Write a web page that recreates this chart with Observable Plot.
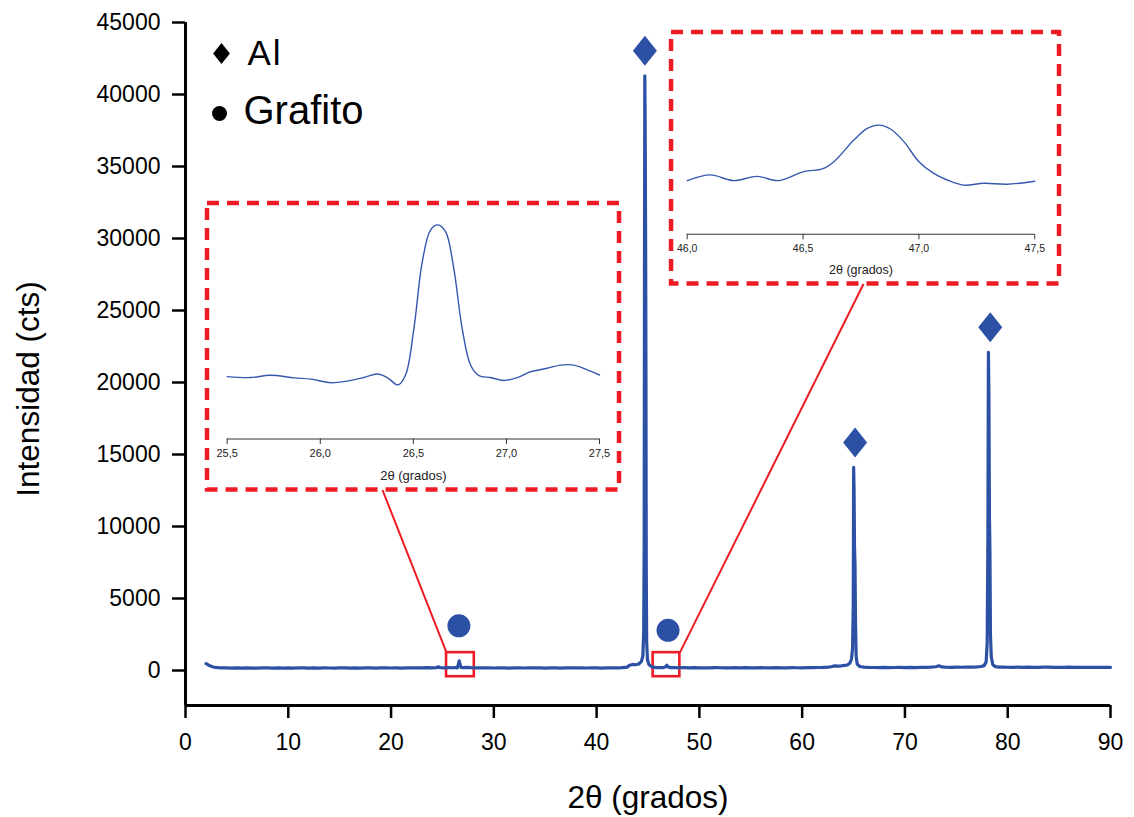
<!DOCTYPE html>
<html>
<head>
<meta charset="utf-8">
<script src="https://cdn.jsdelivr.net/npm/d3@7"></script>
<script src="https://cdn.jsdelivr.net/npm/@observablehq/plot@0.6"></script>
<style>
  html, body { margin: 0; padding: 0; background: #fff; }
  #chart { position: relative; width: 1134px; height: 817px; }
  #chart svg { font-family: "Liberation Sans", Arial, sans-serif; }
  .legend-al text { letter-spacing: 2px; }
</style>
</head>
<body>
<div id="chart"></div>
<script>
// XRD pattern of the Al / graphite sample: 2θ (degrees) and intensity (counts)
const twoTheta = [
  2.0, 2.15, 2.3, 2.5, 2.7, 2.9, 3.2, 3.6, 4.0, 4.5, 5.0, 5.5, 6.0, 6.5, 7.0, 7.5, 8.0, 8.5, 9.0, 9.5,
  10.0, 10.5, 11.0, 11.5, 12.0, 12.5, 13.0, 13.5, 14.0, 14.5, 15.0, 15.5, 16.0, 16.5, 17.0, 17.5, 18.0, 18.5, 19.0, 19.5,
  20.0, 20.5, 21.0, 21.5, 22.0, 22.5, 23.0, 23.5, 24.0, 24.4, 24.6, 24.8, 25.2, 25.6, 26.0, 26.3, 26.45, 26.55, 26.63, 26.71,
  26.8, 27.0, 27.4, 27.8, 28.3, 29.0, 29.5, 30.0, 30.5, 31.0, 31.5, 32.0, 32.5, 33.0, 33.5, 34.0, 34.5, 35.0, 35.5, 36.0,
  36.5, 37.0, 37.5, 38.0, 38.5, 39.0, 39.5, 40.0, 40.5, 41.0, 41.5, 42.0, 42.5, 43.0, 43.2, 43.5, 43.8, 44.1, 44.35, 44.5,
  44.58, 44.63, 44.66, 44.69, 44.72, 44.74, 44.77, 44.8, 44.83, 44.87, 44.95, 45.1, 45.4, 45.8, 46.2, 46.5, 46.7, 46.83, 46.95, 47.2,
  47.6, 48.0, 48.5, 49.0, 49.5, 50.0, 50.5, 51.0, 51.5, 52.0, 52.5, 53.0, 53.5, 54.0, 54.5, 55.0, 55.5, 56.0, 56.5, 57.0,
  57.5, 58.0, 58.5, 59.0, 59.5, 60.0, 60.5, 61.0, 61.5, 62.0, 62.5, 62.8, 63.0, 63.2, 63.5, 63.8, 64.4, 64.65, 64.8, 64.9,
  64.97, 65.01, 65.05, 65.09, 65.14, 65.19, 65.25, 65.35, 65.6, 66.0, 66.5, 67.0, 67.5, 68.0, 68.5, 69.0, 69.5, 70.0, 70.5, 71.0,
  71.5, 72.0, 72.5, 73.0, 73.3, 73.6, 74.0, 74.5, 75.0, 75.5, 76.0, 76.5, 77.0, 77.4, 77.7, 77.9, 78.0, 78.07, 78.12, 78.17,
  78.22, 78.27, 78.32, 78.4, 78.55, 78.8, 79.2, 79.6, 80.0, 80.5, 81.0, 81.5, 82.0, 82.5, 83.0, 83.5, 84.0, 84.5, 85.0, 85.5,
  86.0, 86.5, 87.0, 87.5, 88.0, 88.5, 89.0, 89.5, 90.0
];
const counts = [
  480, 420, 350, 290, 245, 215, 195, 185, 178, 172, 180, 168, 185, 172, 165, 180, 176, 168, 184, 170,
  176, 165, 182, 186, 168, 176, 170, 186, 174, 165, 178, 186, 170, 176, 166, 184, 176, 170, 186, 180,
  174, 186, 168, 180, 190, 176, 184, 195, 186, 200, 260, 195, 185, 200, 190, 210, 185, 430, 669, 430,
  220, 200, 212, 195, 186, 178, 186, 174, 180, 186, 172, 178, 186, 174, 180, 176, 186, 172, 180, 184,
  172, 186, 176, 190, 180, 174, 186, 176, 170, 184, 176, 186, 196, 240, 360, 420, 400, 450, 620, 1000,
  2600, 9000, 29000, 41300, 38500, 35000, 29500, 21000, 7000, 2000, 750, 400, 250, 205, 195, 205, 250, 364, 250, 200,
  205, 190, 196, 186, 194, 182, 192, 186, 196, 190, 182, 188, 195, 184, 196, 188, 182, 194, 186, 182,
  196, 188, 184, 196, 190, 186, 196, 202, 208, 215, 240, 260, 300, 320, 310, 320, 380, 520, 800, 1500,
  4500, 14100, 12500, 8700, 7400, 3500, 1000, 450, 280, 230, 215, 210, 205, 212, 204, 210, 214, 206, 212, 202,
  214, 222, 230, 260, 330, 250, 225, 220, 232, 226, 234, 240, 255, 280, 340, 600, 1900, 9000, 22100, 19000,
  10800, 8200, 2500, 950, 400, 270, 240, 230, 226, 220, 228, 218, 232, 222, 216, 228, 232, 222, 226, 218,
  232, 224, 218, 226, 222, 214, 224, 216, 220
];

// Phase identification: Al reflections and graphite reflections
const alPeakTheta = [44.7, 65.15, 78.3];
const alPeakCounts = [41300, 14100, 22100];
const graphitePeakTheta = [26.6, 46.95];
const graphitePeakCounts = [669, 364];

// Legend entries
const legendLabels = ["Al", "Grafito"];

// Zoomed windows highlighted on the full pattern (2θ range and count range)
const zoomTheta1 = [25.4, 45.5];
const zoomTheta2 = [28.1, 48.1];
const zoomCountsLow = [-430, -430];
const zoomCountsHigh = [1240, 1240];

// Detail of the graphite (002) reflection
const inset1Theta = [25.5, 25.625, 25.73, 25.86, 25.95, 26.055, 26.145, 26.234, 26.306, 26.36, 26.417, 26.458, 26.503,
  26.548, 26.592, 26.631, 26.673, 26.717, 26.762, 26.807, 26.852, 26.914, 26.986, 27.058, 27.129, 27.219, 27.29, 27.362, 27.434, 27.5];
const inset1Counts = [195, 192, 199, 191, 187, 176, 181, 192, 203, 192, 169, 200, 346,
  554, 653, 669, 648, 533, 346, 231, 198, 192, 183, 192, 210, 221, 231, 231, 216, 200];
const inset1Ticks = [25.5, 26.0, 26.5, 27.0, 27.5];

// Detail of the weak graphite reflection near 46.8°
const inset2Theta = [46.0, 46.1, 46.2, 46.3, 46.395, 46.503, 46.583, 46.633, 46.719, 46.777, 46.827, 46.877, 46.935,
  47.0, 47.064, 47.122, 47.194, 47.28, 47.381, 47.5];
const inset2Counts = [179, 198, 179, 193, 179, 209, 218, 242, 314, 353, 364, 351, 309,
  242, 203, 181, 164, 170, 167, 177];
const inset2Ticks = [46.0, 46.5, 47.0, 47.5];

// ---- styling & layout ----
const BLUE = "#2b50a4";
const RED = "#ed1c24";
const FONT = "Liberation Sans, Arial, sans-serif";

const pattern = twoTheta.map((t, i) => ({t, c: counts[i]}));
const alPeaks = alPeakTheta.map((t, i) => ({t, c: alPeakCounts[i]}));
const graphitePeaks = graphitePeakTheta.map((t, i) => ({t, c: graphitePeakCounts[i]}));
const zoomWindows = zoomTheta1.map((t1, i) => ({t1, t2: zoomTheta2[i], c1: zoomCountsLow[i], c2: zoomCountsHigh[i]}));

// Where each detail panel sits on the main chart, in main-axis units
const insetLayout = [
  {x1: 2.14, x2: 42.23, y1: 12535, y2: 32430, linkX: 19.17, corner: "left",
   margin: {top: 11.5, right: 20, bottom: 51, left: 19.7}, yDomain: [0, 700],
   tickFont: 11, titleFont: 13, titleDy: 37, labelPad: 5},
  {x1: 47.29, x2: 85.04, y1: 26840, y2: 44306, linkX: 65.97, corner: "right",
   margin: {top: 21.8, right: 24.7, bottom: 49.7, left: 15.7}, yDomain: [0, 600],
   tickFont: 10.5, titleFont: 12.5, titleDy: 35.5, labelPad: 4.5}
];
const insetData = [
  {theta: inset1Theta, counts: inset1Counts, ticks: inset1Ticks},
  {theta: inset2Theta, counts: inset2Counts, ticks: inset2Ticks}
];

// Connector lines from each highlighted window to its detail panel
const connectors = insetLayout.map((b, i) => ({
  x1: b.corner === "left" ? zoomWindows[i].t1 : zoomWindows[i].t2,
  y1: zoomWindows[i].c2,
  x2: b.linkX,
  y2: b.y1
}));

// Diamond with a 0.8 width/height ratio
const diamond = {
  draw(ctx, size) {
    const r = Math.sqrt(size / Math.PI);
    const w = r * 0.8;
    ctx.moveTo(0, -r); ctx.lineTo(w, 0); ctx.lineTo(0, r); ctx.lineTo(-w, 0); ctx.closePath();
  }
};

const xDomain = [0, 90];
const yDomain = [-2430, 45000];

const main = Plot.plot({
  width: 1134,
  height: 817,
  marginLeft: 185,
  marginRight: 24,
  marginTop: 22,
  marginBottom: 112,
  style: {fontFamily: FONT, background: "white", overflow: "visible"},
  x: {domain: xDomain},
  y: {domain: yDomain},
  marks: [
    Plot.ruleX([xDomain[0]], {stroke: "black", strokeWidth: 3}),
    Plot.ruleY([yDomain[0]], {stroke: "black", strokeWidth: 3}),
    Plot.axisX({ticks: d3.range(0, 91, 10), tickFormat: "d", tickSize: 13, tickPadding: 15,
      fontSize: 23, strokeWidth: 2.5, label: null}),
    Plot.axisY({ticks: d3.range(0, 45001, 5000), tickFormat: "d", tickSize: 13, tickPadding: 12,
      fontSize: 23, strokeWidth: 2.5, label: null}),
    // highlighted windows and their connectors
    Plot.link(connectors, {x1: "x1", y1: "y1", x2: "x2", y2: "y2", stroke: RED, strokeWidth: 2}),
    Plot.rect(zoomWindows, {x1: "t1", x2: "t2", y1: "c1", y2: "c2", stroke: RED, strokeWidth: 2.6, fill: "none"}),
    // dashed frames of the detail panels
    Plot.rect(insetLayout, {x1: "x1", x2: "x2", y1: "y1", y2: "y2", stroke: RED, strokeWidth: 4.5,
      strokeDasharray: "12 8", fill: "none"}),
    // diffraction pattern
    Plot.line(pattern, {x: "t", y: "c", stroke: BLUE, strokeWidth: 3.2}),
    // phase markers
    Plot.dot(alPeaks, {x: "t", y: "c", dy: -25, symbol: diamond, r: 15, fill: BLUE, stroke: "none"}),
    Plot.dot(graphitePeaks, {x: "t", y: "c", dy: -35, r: 11.5, fill: BLUE, stroke: "none"}),
    // legend
    Plot.dot([legendLabels[0]], {frameAnchor: "top-left", dx: 36, dy: 31, symbol: diamond, r: 10.5, fill: "black"}),
    Plot.dot([legendLabels[1]], {frameAnchor: "top-left", dx: 34, dy: 91, r: 7.5, fill: "black"}),
    Plot.text([legendLabels[0]], {text: d => d, frameAnchor: "top-left", dx: 62, dy: 31, fontSize: 35,
      textAnchor: "start", lineAnchor: "middle", fill: "black", className: "legend-al"}),
    Plot.text([legendLabels[1]], {text: d => d, frameAnchor: "top-left", dx: 58, dy: 88.5, fontSize: 40,
      textAnchor: "start", lineAnchor: "middle", fill: "black"}),
    // axis titles
    Plot.text(["2θ (grados)"], {text: d => d, frameAnchor: "bottom", dy: 92, fontSize: 31.5,
      textAnchor: "middle", lineAnchor: "middle", fill: "black"}),
    Plot.text(["Intensidad (cts)"], {text: d => d, frameAnchor: "left", dx: -157, dy: 25, rotate: -90,
      fontSize: 31.5, textAnchor: "middle", lineAnchor: "middle", fill: "black"})
  ]
});

const container = document.getElementById("chart");
container.appendChild(main);

const xs = main.scale("x");
const ys = main.scale("y");
const commaFmt = d => d.toFixed(1).replace(".", ",");

insetLayout.forEach((b, i) => {
  const d = insetData[i];
  const left = xs.apply(b.x1), right = xs.apply(b.x2);
  const top = ys.apply(b.y2), bottom = ys.apply(b.y1);
  const rows = d.theta.map((t, j) => ({t, c: d.counts[j]}));
  const svg = Plot.plot({
    width: right - left,
    height: bottom - top,
    marginTop: b.margin.top,
    marginRight: b.margin.right,
    marginBottom: b.margin.bottom,
    marginLeft: b.margin.left,
    style: {fontFamily: FONT, background: "transparent", overflow: "visible"},
    x: {domain: [d.ticks[0], d.ticks[d.ticks.length - 1]]},
    y: {domain: b.yDomain, axis: null},
    marks: [
      Plot.ruleY([b.yDomain[0]], {stroke: "#333", strokeWidth: 1.1}),
      Plot.axisX({ticks: d.ticks, tickFormat: commaFmt, tickSize: 5.5, tickPadding: b.labelPad,
        fontSize: b.tickFont, stroke: "#333", fill: "#222", label: null}),
      Plot.line(rows, {x: "t", y: "c", stroke: "#3557ad", strokeWidth: 1.4, curve: "catmull-rom"}),
      Plot.text(["2θ (grados)"], {text: t => t, frameAnchor: "bottom", dy: b.titleDy, fontSize: b.titleFont,
        lineAnchor: "middle", fill: "#222"})
    ]
  });
  svg.style.position = "absolute";
  svg.style.left = left + "px";
  svg.style.top = top + "px";
  container.appendChild(svg);
});
</script>
</body>
</html>
